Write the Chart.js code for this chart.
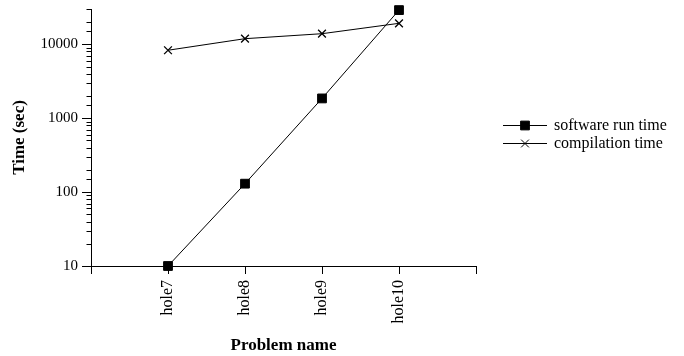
<!DOCTYPE html>
<html>
<head>
<meta charset="utf-8">
<style>
  html, body { margin: 0; padding: 0; background: #fff; }
  #wrap { width: 684px; height: 356px; position: relative; }
</style>
<script src="https://cdn.jsdelivr.net/npm/chart.js@4/dist/chart.umd.min.js"></script>
</head>
<body>
<div id="wrap"><canvas id="chart" width="684" height="356"></canvas></div>
<script>
// Problem instances on the x axis
const problems = ['hole7', 'hole8', 'hole9', 'hole10'];

// Timings in seconds (log scale)
const softwareRunTime = [10, 130, 1850, 29000];
const compilationTime = [8300, 11900, 13900, 19200];

const seriesNames = ['software run time', 'compilation time'];

const SERIF = '"Liberation Serif", "Times New Roman", serif';

function toPoints(values) {
  return values.map((v, i) => ({ x: i, y: v }));
}

function isDecade(v) {
  const l = Math.log10(v);
  return Math.abs(l - Math.round(l)) < 1e-9;
}

// Short minor ticks on the log axis (2..9 within each decade)
const minorTicks = {
  id: 'minorTicks',
  afterDraw(chart) {
    const y = chart.scales.y;
    const ctx = chart.ctx;
    const x0 = chart.chartArea.left;
    ctx.save();
    ctx.strokeStyle = '#000';
    ctx.lineWidth = 1;
    ctx.beginPath();
    y.ticks.forEach(t => {
      if (isDecade(t.value)) return;
      const py = Math.round(y.getPixelForValue(t.value)) + 0.5;
      ctx.moveTo(x0 - 4.5, py);
      ctx.lineTo(x0, py);
    });
    ctx.stroke();
    ctx.restore();
  }
};

// Legend to the right of the plot: line with marker, then the series name
const sideLegend = {
  id: 'sideLegend',
  afterDraw(chart) {
    const ctx = chart.ctx;
    const area = chart.chartArea;
    const x1 = area.right + 27;
    const x2 = x1 + 44;
    const mx = (x1 + x2) / 2;
    const rows = [125, 143];
    ctx.save();
    chart.data.datasets.forEach((ds, i) => {
      const yy = rows[i] + 0.5;
      ctx.strokeStyle = '#000';
      ctx.lineWidth = 1;
      ctx.beginPath();
      ctx.moveTo(x1, yy);
      ctx.lineTo(x2, yy);
      ctx.stroke();
      ctx.fillStyle = '#000';
      ctx.strokeStyle = '#000';
      Chart.helpers.drawPoint(ctx, {
        pointStyle: ds.pointStyle,
        radius: ds.pointRadius,
        borderWidth: ds.pointBorderWidth || 1,
        rotation: 0
      }, mx, yy);
      ctx.fillStyle = '#000';
      ctx.font = '16px ' + SERIF;
      ctx.textAlign = 'left';
      ctx.textBaseline = 'middle';
      ctx.fillText(ds.label, x2 + 7, yy);
    });
    ctx.restore();
  }
};

new Chart(document.getElementById('chart'), {
  type: 'line',
  data: {
    datasets: [
      {
        label: seriesNames[0],
        data: toPoints(softwareRunTime),
        borderColor: '#000',
        backgroundColor: '#000',
        borderWidth: 1,
        pointStyle: 'rect',
        pointRadius: 6.2,
        pointBorderWidth: 1,
        pointBackgroundColor: '#000',
        pointBorderColor: '#000',
        tension: 0,
        clip: false
      },
      {
        label: seriesNames[1],
        data: toPoints(compilationTime),
        borderColor: '#000',
        backgroundColor: '#000',
        borderWidth: 1,
        pointStyle: 'crossRot',
        pointRadius: 5.5,
        pointBorderWidth: 1.3,
        pointBackgroundColor: '#000',
        pointBorderColor: '#000',
        tension: 0,
        clip: false
      }
    ]
  },
  options: {
    responsive: false,
    animation: false,
    layout: { padding: { top: 9, right: 208, bottom: 0, left: 0 } },
    plugins: {
      legend: { display: false },
      tooltip: { enabled: false }
    },
    scales: {
      x: {
        type: 'linear',
        min: -1,
        max: problems.length,
        afterFit(scale) {
          scale.height = 90;
          scale.paddingLeft = 0;
          scale.paddingRight = 0;
        },
        border: { display: true, color: '#000', width: 1 },
        grid: {
          display: true,
          drawOnChartArea: false,
          drawTicks: true,
          tickLength: 8,
          tickColor: '#000',
          tickWidth: 1
        },
        ticks: {
          stepSize: 1,
          autoSkip: false,
          minRotation: 90,
          maxRotation: 90,
          padding: 6,
          color: '#000',
          font: { family: SERIF, size: 16 },
          callback: (v) => (Number.isInteger(v) && problems[v] !== undefined) ? problems[v] : ''
        },
        title: {
          display: true,
          text: 'Problem name',
          color: '#000',
          font: { family: SERIF, size: 17, weight: 'bold' },
          padding: { top: 4, bottom: 0 }
        }
      },
      y: {
        type: 'logarithmic',
        min: 10,
        max: 30000,
        afterFit(scale) {
          scale.width = 91;
          scale.paddingTop = 0;
          scale.paddingBottom = 0;
        },
        border: { display: true, color: '#000', width: 1 },
        grid: {
          display: true,
          drawOnChartArea: false,
          drawTicks: true,
          tickLength: 9,
          tickWidth: 1,
          tickColor: (c) => (c.tick && isDecade(c.tick.value)) ? '#000' : 'rgba(0,0,0,0)'
        },
        ticks: {
          autoSkip: false,
          padding: 4,
          color: '#000',
          font: { family: SERIF, size: 15 },
          callback: (v) => isDecade(v) ? String(Math.round(v)) : ''
        },
        title: {
          display: true,
          text: 'Time (sec)',
          color: '#000',
          font: { family: SERIF, size: 17, weight: 'bold' },
          padding: { top: 9, bottom: 0 }
        }
      }
    }
  },
  plugins: [minorTicks, sideLegend]
});
</script>
</body>
</html>
